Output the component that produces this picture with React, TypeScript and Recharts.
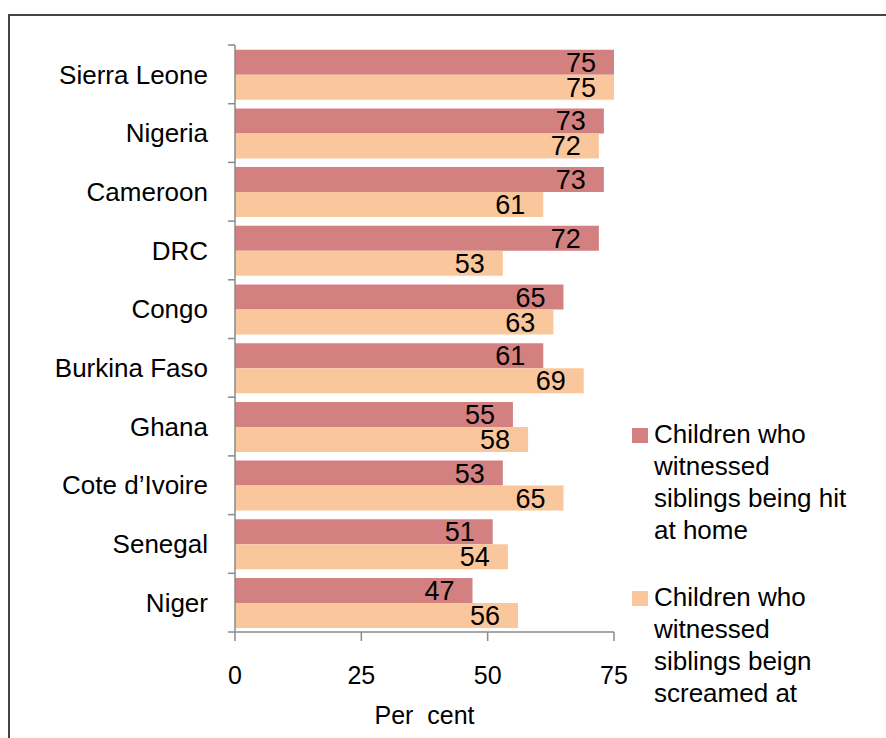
import { BarChart, Bar, XAxis, YAxis, LabelList, Label } from "recharts";

const countries = [
  "Sierra Leone",
  "Nigeria",
  "Cameroon",
  "DRC",
  "Congo",
  "Burkina Faso",
  "Ghana",
  "Cote d\u2019Ivoire",
  "Senegal",
  "Niger",
];
const hitAtHome = [75, 73, 73, 72, 65, 61, 55, 53, 51, 47];
const screamedAt = [75, 72, 61, 53, 63, 69, 58, 65, 54, 56];
const xTicks = [0, 25, 50, 75];

const series = [
  { key: "hit", name: "Children who\nwitnessed\nsiblings being hit\nat home", color: "#D38080" },
  { key: "scream", name: "Children who\nwitnessed\nsiblings beign\nscreamed at", color: "#FAC79C" },
];

const data = countries.map((country, i) => ({
  country,
  hit: hitAtHome[i],
  scream: screamedAt[i],
}));

const AXIS = "#8a8a8a";

// category label plus Excel-style tick marks between the bands
function CountryTick(props: any) {
  const { x, y, payload, index } = props;
  const axisX = x + 27;
  const half = payload.offset || 0;
  return (
    <g>
      <text x={x} y={y} dy="0.355em" textAnchor="end" fontSize={26} fill="#000">
        {payload.value}
      </text>
      <line x1={axisX - 7} x2={axisX} y1={y - half} y2={y - half} stroke={AXIS} strokeWidth={1.5} />
      {index === countries.length - 1 && (
        <line x1={axisX - 7} x2={axisX} y1={y + half} y2={y + half} stroke={AXIS} strokeWidth={1.5} />
      )}
    </g>
  );
}

export default function App() {
  return (
    <div
      style={{
        position: "fixed",
        left: 0,
        top: 0,
        width: 886,
        height: 738,
        background: "#fff",
        overflow: "hidden",
        fontFamily: "'Liberation Sans', Arial, sans-serif",
      }}
    >
      <div
        style={{
          position: "absolute",
          left: 8,
          top: 14,
          width: 900,
          height: 800,
          borderTop: "2px solid #444",
          borderLeft: "2px solid #444",
        }}
      />
      <div style={{ position: "absolute", left: 0, top: 0 }}>
        <BarChart
          width={886}
          height={738}
          data={data}
          layout="vertical"
          margin={{ top: 45, right: 272, bottom: 0, left: 0 }}
          barCategoryGap="8%"
          barGap={0}
        >
          <XAxis
            type="number"
            domain={[0, 75]}
            ticks={xTicks}
            stroke={AXIS}
            strokeWidth={1.5}
            tickSize={9}
            tickMargin={25}
            height={106}
            tick={{ fontSize: 25, fill: "#000" }}
          >
            <Label
              value={"Per\u00a0 cent"}
              position="insideBottom"
              offset={14}
              fontSize={25}
              fill="#000"
            />
          </XAxis>
          <YAxis
            type="category"
            dataKey="country"
            width={235}
            interval={0}
            tickSize={7}
            tickMargin={20}
            tickLine={false}
            stroke={AXIS}
            strokeWidth={1.5}
            tick={<CountryTick />}
          />
          {series.map((s) => (
            <Bar key={s.key} dataKey={s.key} fill={s.color} isAnimationActive={false}>
              <LabelList
                dataKey={s.key}
                position="insideRight"
                offset={18}
                fontSize={27}
                fill="#000"
              />
            </Bar>
          ))}
        </BarChart>
      </div>
      <div style={{ position: "absolute", left: 632, top: 418, fontSize: 26, color: "#000" }}>
        {series.map((s, i) => (
          <div key={s.key} style={{ display: "flex", marginBottom: i === 0 ? 35 : 0 }}>
            <div
              style={{
                width: 16,
                height: 15,
                background: s.color,
                marginTop: 10,
                marginRight: 6,
                flexShrink: 0,
              }}
            />
            <div style={{ whiteSpace: "pre-line", lineHeight: "32px" }}>{s.name}</div>
          </div>
        ))}
      </div>
    </div>
  );
}
